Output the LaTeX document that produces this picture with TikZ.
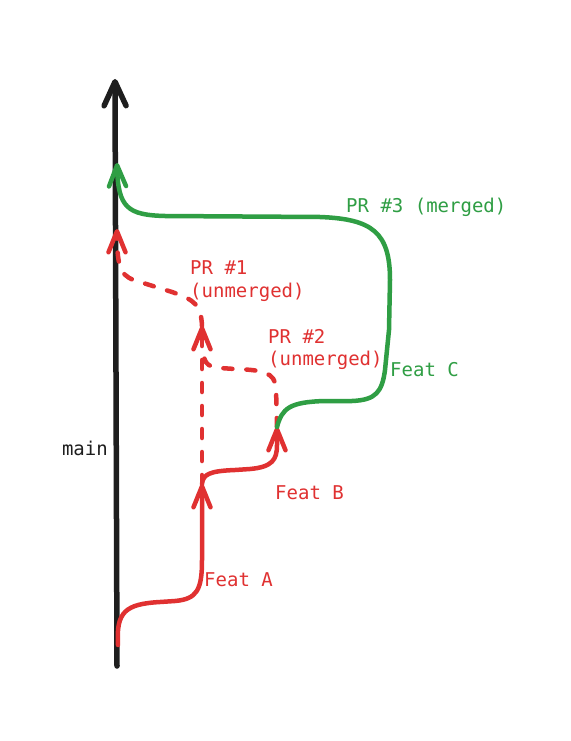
\documentclass[tikz,border=0pt]{standalone}
\usepackage{fontspec}
\setmonofont{DejaVu Sans Mono}
\usetikzlibrary{arrows.meta}
\definecolor{exred}{HTML}{E03131}
\definecolor{exgreen}{HTML}{2F9E44}
\definecolor{exblack}{HTML}{1E1E1E}
\tikzset{
  lbl/.style={inner sep=0pt, font=\ttfamily\fontsize{19}{21}\selectfont},
  barb/.style={-{Straight Barb[length=21pt,width=17pt,round]}},
  branch/.style={line width=4.5pt, line cap=round, line join=round, barb},
  dashbranch/.style={branch, dash pattern=on 9pt off 14pt},
  trunk/.style={line width=5.5pt, line cap=round, exblack, -{Straight Barb[length=24pt,width=22pt,round]}}
}
\begin{document}
\begin{tikzpicture}[x=1pt,y=-1pt]
\useasboundingbox[fill=white] (0,0) rectangle (570,741);
% points
\coordinate (m0) at (117,666);
\coordinate (m1) at (115,79);
\coordinate (a0) at (118,645);
\coordinate (A) at (202,484);
\coordinate (B) at (277,427);
\coordinate (g) at (117,163);
\coordinate (p1) at (202,326);
\coordinate (r1) at (117,229);
% main
\draw[trunk] (m0) -- (m1);
% dashed PR paths
\draw[dashbranch, exred] (A) -- (p1);
\draw[branch, dash pattern=on 9pt off 14pt, exred, -] (B) -- (276,388) .. controls (275,372) and (262,370) .. (235,369) -- (220,368) .. controls (206,367) and (203,362) .. (203,345);
\draw[dashbranch, exred] (p1) .. controls (201,305) and (195,300) .. (172,292) -- (140,282) .. controls (122,277) and (117,272) .. (r1);
% Feat A
\draw[branch, exred] (a0) .. controls (116,612) and (125,604) .. (160,602) -- (175,601) .. controls (197,599) and (202,590) .. (202,560) -- (A);
% Feat B
\draw[branch, exred] (A) .. controls (203,474) and (210,471) .. (235,470) -- (250,469) .. controls (272,467) and (277,460) .. (277,445) -- (B);
% Feat C / PR #3
\draw[branch, exgreen] (B) .. controls (282,408) and (290,402) .. (325,401) -- (352,401) .. controls (376,400) and (382,392) .. (385,370) -- (389,330) -- (390,280) .. controls (390,232) and (372,219) .. (320,217) -- (165,216) .. controls (128,215) and (118,208) .. (g);
% labels
\node[lbl, exred, anchor=west] (pr1a) at (190,268) {PR \#1};
\node[lbl, exred, anchor=west] (pr1b) at (190,292) {(unmerged)};
\node[lbl, exred, anchor=west] (pr2a) at (268,336) {PR \#2};
\node[lbl, exred, anchor=west] (pr2b) at (268,360) {(unmerged)};
\node[lbl, exgreen, anchor=west] (pr3) at (346,207) {PR \#3 (merged)};
\node[lbl, exgreen, anchor=west] (fc) at (390,370) {Feat C};
\node[lbl, exred, anchor=west] (fb) at (275,493) {Feat B};
\node[lbl, exred, anchor=west] (fa) at (204,580) {Feat A};
\node[lbl, exblack, anchor=east] (mn) at (108,448) {main};
\end{tikzpicture}
\end{document}
